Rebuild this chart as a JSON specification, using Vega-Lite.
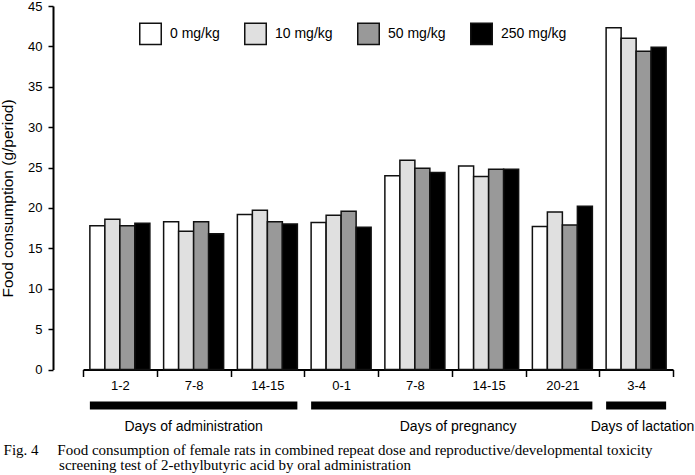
{
  "$schema": "https://vega.github.io/schema/vega-lite/v6.json",
  "width": 590,
  "height": 363.5,
  "autosize": {"type": "none"},
  "padding": {"left": 83, "top": 6, "right": 22, "bottom": 105.5},
  "datasets": {
    "consumption": [
      {"key": "A|1-2", "dose": "0 mg/kg", "value": 17.8},
      {"key": "A|1-2", "dose": "10 mg/kg", "value": 18.6},
      {"key": "A|1-2", "dose": "50 mg/kg", "value": 17.8},
      {"key": "A|1-2", "dose": "250 mg/kg", "value": 18.1},
      {"key": "A|7-8", "dose": "0 mg/kg", "value": 18.3},
      {"key": "A|7-8", "dose": "10 mg/kg", "value": 17.1},
      {"key": "A|7-8", "dose": "50 mg/kg", "value": 18.3},
      {"key": "A|7-8", "dose": "250 mg/kg", "value": 16.8},
      {"key": "A|14-15", "dose": "0 mg/kg", "value": 19.2},
      {"key": "A|14-15", "dose": "10 mg/kg", "value": 19.7},
      {"key": "A|14-15", "dose": "50 mg/kg", "value": 18.3},
      {"key": "A|14-15", "dose": "250 mg/kg", "value": 18.0},
      {"key": "P|0-1", "dose": "0 mg/kg", "value": 18.2},
      {"key": "P|0-1", "dose": "10 mg/kg", "value": 19.1},
      {"key": "P|0-1", "dose": "50 mg/kg", "value": 19.6},
      {"key": "P|0-1", "dose": "250 mg/kg", "value": 17.6},
      {"key": "P|7-8", "dose": "0 mg/kg", "value": 24.0},
      {"key": "P|7-8", "dose": "10 mg/kg", "value": 25.9},
      {"key": "P|7-8", "dose": "50 mg/kg", "value": 24.9},
      {"key": "P|7-8", "dose": "250 mg/kg", "value": 24.4},
      {"key": "P|14-15", "dose": "0 mg/kg", "value": 25.2},
      {"key": "P|14-15", "dose": "10 mg/kg", "value": 23.9},
      {"key": "P|14-15", "dose": "50 mg/kg", "value": 24.8},
      {"key": "P|14-15", "dose": "250 mg/kg", "value": 24.8},
      {"key": "P|20-21", "dose": "0 mg/kg", "value": 17.7},
      {"key": "P|20-21", "dose": "10 mg/kg", "value": 19.5},
      {"key": "P|20-21", "dose": "50 mg/kg", "value": 17.9},
      {"key": "P|20-21", "dose": "250 mg/kg", "value": 20.2},
      {"key": "L|3-4", "dose": "0 mg/kg", "value": 42.3},
      {"key": "L|3-4", "dose": "10 mg/kg", "value": 41.0},
      {"key": "L|3-4", "dose": "50 mg/kg", "value": 39.4},
      {"key": "L|3-4", "dose": "250 mg/kg", "value": 39.9}
    ],
    "periods": [
      {"period": "Days of administration", "first": "A|1-2", "last": "A|14-15"},
      {"period": "Days of pregnancy", "first": "P|0-1", "last": "P|20-21"},
      {"period": "Days of lactation", "first": "L|3-4", "last": "L|3-4"}
    ]
  },
  "title": {
    "text": [
      "Fig. 4\u00a0\u00a0\u00a0\u00a0\u00a0Food consumption of female rats in combined repeat dose and reproductive/developmental toxicity",
      "\u200b\u00a0\u00a0\u00a0\u00a0\u00a0\u00a0\u00a0\u00a0\u00a0\u00a0\u00a0\u00a0\u00a0\u00a0\u2009screening test of 2-ethylbutyric acid by oral administration"
    ],
    "orient": "bottom",
    "anchor": "start",
    "frame": "bounds",
    "font": "Liberation Serif",
    "fontSize": 15,
    "fontWeight": "normal",
    "lineHeight": 15,
    "offset": 9,
    "dx": 3,
    "color": "#000"
  },
  "config": {
    "view": {"stroke": null},
    "font": "Liberation Sans",
    "axis": {
      "labelColor": "#000",
      "tickColor": "#000",
      "domainColor": "#000",
      "titleColor": "#000",
      "labelFont": "Liberation Sans",
      "titleFont": "Liberation Sans",
      "titleFontWeight": "normal",
      "grid": false
    },
    "legend": {"labelColor": "#000", "labelFont": "Liberation Sans"}
  },
  "layer": [
    {
      "data": {"name": "consumption"},
      "mark": {"type": "bar", "stroke": "#111", "strokeWidth": 1.5},
      "encoding": {
        "x": {
          "field": "key",
          "type": "nominal",
          "sort": null,
          "scale": {
            "domain": ["A|1-2", "A|7-8", "A|14-15", "P|0-1", "P|7-8", "P|14-15", "P|20-21", "L|3-4"],
            "paddingInner": 0,
            "paddingOuter": 0
          },
          "axis": {
            "title": null,
            "labelExpr": "split(datum.label, '|')[1]",
            "tickBand": "extent",
            "labelAngle": 0,
            "tickSize": 7,
            "tickWidth": 1.5,
            "domainWidth": 2,
            "labelFontSize": 13,
            "labelPadding": 3
          }
        },
        "xOffset": {
          "field": "dose",
          "type": "nominal",
          "scale": {
            "domain": ["0 mg/kg", "10 mg/kg", "50 mg/kg", "250 mg/kg"],
            "paddingInner": 0,
            "paddingOuter": 0.458
          }
        },
        "y": {
          "field": "value",
          "type": "quantitative",
          "scale": {"domain": [0, 45], "nice": false, "zero": false},
          "axis": {
            "title": "Food consumption (g/period)",
            "values": [0, 5, 10, 15, 20, 25, 30, 35, 40, 45],
            "offset": 30,
            "tickSize": 5,
            "tickWidth": 1.5,
            "domainWidth": 2,
            "labelFontSize": 13,
            "labelPadding": 6,
            "titleFontSize": 15.5,
            "titlePadding": 12,
            "titleY": 192
          }
        },
        "color": {
          "field": "dose",
          "type": "nominal",
          "scale": {
            "domain": ["0 mg/kg", "10 mg/kg", "50 mg/kg", "250 mg/kg"],
            "range": ["#ffffff", "#e0e0e0", "#999999", "#000000"]
          },
          "legend": {
            "orient": "none",
            "legendX": 56,
            "legendY": 16,
            "direction": "horizontal",
            "title": null,
            "symbolType": "square",
            "symbolSize": 462,
            "symbolStrokeColor": "#111",
            "symbolStrokeWidth": 1.5,
            "labelFontSize": 14,
            "labelOffset": 8,
            "columnPadding": 21,
            "padding": 0
          }
        }
      }
    },
    {
      "data": {"name": "periods"},
      "mark": {"type": "rule", "strokeWidth": 8, "color": "#000", "strokeCap": "butt"},
      "encoding": {
        "x": {"field": "first", "type": "nominal", "bandPosition": 0.0932},
        "x2": {"field": "last", "bandPosition": 0.9068},
        "y": {"datum": -4.46, "type": "quantitative"}
      }
    },
    {
      "data": {"name": "periods"},
      "transform": [{"filter": "datum.period === 'Days of administration'"}],
      "mark": {"type": "text", "fontSize": 14, "baseline": "middle", "color": "#000"},
      "encoding": {
        "x": {"field": "first", "type": "nominal", "bandPosition": 1.5},
        "y": {"datum": -7.08, "type": "quantitative"},
        "text": {"field": "period"}
      }
    },
    {
      "data": {"name": "periods"},
      "transform": [{"filter": "datum.period === 'Days of pregnancy'"}],
      "mark": {"type": "text", "fontSize": 14, "baseline": "middle", "color": "#000"},
      "encoding": {
        "x": {"field": "first", "type": "nominal", "bandPosition": 2.086},
        "y": {"datum": -7.08, "type": "quantitative"},
        "text": {"field": "period"}
      }
    },
    {
      "data": {"name": "periods"},
      "transform": [{"filter": "datum.period === 'Days of lactation'"}],
      "mark": {"type": "text", "fontSize": 14, "baseline": "middle", "color": "#000"},
      "encoding": {
        "x": {"field": "first", "type": "nominal", "bandPosition": 0.586},
        "y": {"datum": -7.08, "type": "quantitative"},
        "text": {"field": "period"}
      }
    }
  ]
}
